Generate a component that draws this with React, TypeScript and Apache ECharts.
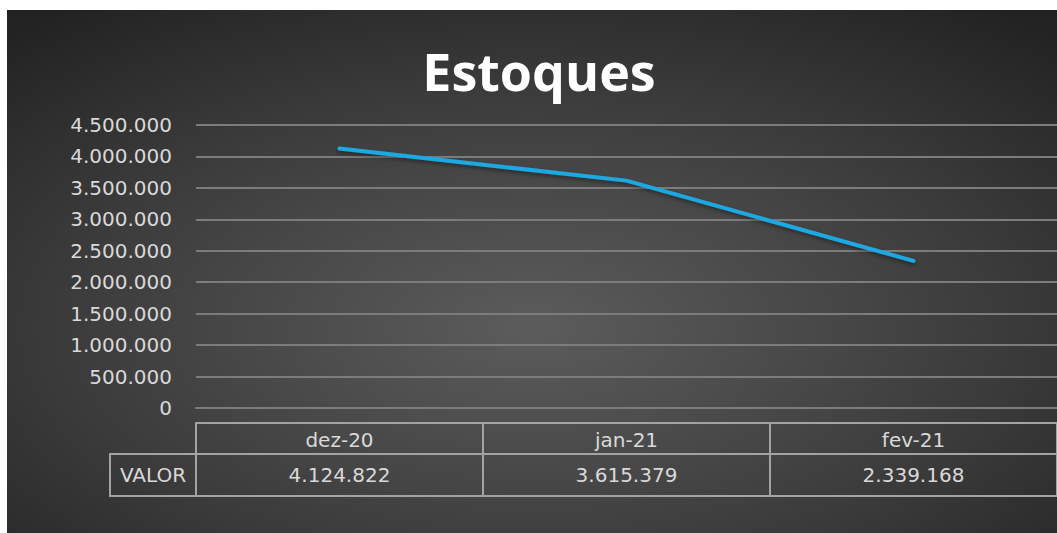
import React, { useEffect, useRef } from "react";
import * as echarts from "echarts";

const titleText = "Estoques";
const categories = ["dez-20", "jan-21", "fev-21"];
const values = [4124822, 3615379, 2339168];
const rowLabel = "VALOR";
const yMin = 0;
const yMax = 4500000;
const yStep = 500000;

const fmt = (n: number) =>
  String(Math.round(n)).replace(/\B(?=(\d{3})+(?!\d))/g, ".");

const labelColor = "#d9d9d9";
const gridColor = "#7c7c7c";
const tableColor = "#a3a3a3";
const font = "DejaVu Sans";

export default function App() {
  const ref = useRef<HTMLDivElement>(null);
  useEffect(() => {
    if (!ref.current) return;
    const chart = echarts.init(ref.current, undefined, { renderer: "svg" });
    const labelBase = { color: labelColor, fontSize: 20, fontFamily: font };
    chart.setOption({
      animation: false,
      backgroundColor: "#2a2a2a",
      grid: { left: 196, right: 0, top: 125, bottom: 125, containLabel: false },
      graphic: [
        {
          type: "rect",
          z: -10,
          silent: true,
          shape: { x: 7, y: 10, width: 1050, height: 530 },
          style: {
            fill: new echarts.graphic.RadialGradient(0.5, 0.6, 0.75, [
              { offset: 0, color: "#5c5c5c" },
              { offset: 0.6, color: "#3b3b3b" },
              { offset: 1, color: "#222222" },
            ]),
          },
        },
        {
          type: "rect",
          z: -9,
          silent: true,
          shape: { x: 0, y: 0, width: 1057, height: 10 },
          style: { fill: "#ffffff" },
        },
        {
          type: "rect",
          z: -9,
          silent: true,
          shape: { x: 0, y: 0, width: 7, height: 533 },
          style: { fill: "#ffffff" },
        },
        {
          type: "text",
          z: 10,
          x: 539,
          y: 70,
          style: {
            text: titleText,
            fill: "#ffffff",
            fontSize: 52,
            fontWeight: "bold",
            fontFamily: "Open Sans",
            textAlign: "center",
            textVerticalAlign: "middle",
            shadowColor: "rgba(0,0,0,0.7)",
            shadowBlur: 4,
            shadowOffsetX: 2,
            shadowOffsetY: 2,
          },
        },
        {
          type: "rect",
          z: 10,
          shape: { x: 110, y: 454, width: 86, height: 42 },
          style: { fill: "none", stroke: tableColor, lineWidth: 2 },
        },
        {
          type: "text",
          z: 10,
          x: 153,
          y: 475,
          style: {
            text: rowLabel,
            fill: labelColor,
            fontSize: 20,
            fontFamily: font,
            textAlign: "center",
            textVerticalAlign: "middle",
          },
        },
      ],
      xAxis: [
        {
          type: "category",
          data: categories,
          position: "bottom",
          axisLine: { show: true, lineStyle: { color: gridColor, width: 2 } },
          axisTick: { show: false },
          axisLabel: { show: false },
        },
        {
          type: "category",
          data: categories,
          position: "bottom",
          offset: 15,
          axisLine: { show: true, lineStyle: { color: tableColor, width: 2 } },
          axisTick: {
            show: true,
            interval: 0,
            length: 73,
            lineStyle: { color: tableColor, width: 2 },
          },
          axisLabel: { ...labelBase, margin: 7, interval: 0 },
        },
        {
          type: "category",
          data: values.map(fmt),
          position: "bottom",
          offset: 46,
          axisLine: { show: true, lineStyle: { color: tableColor, width: 2 } },
          axisTick: { show: false },
          axisLabel: { ...labelBase, margin: 11, interval: 0 },
        },
        {
          type: "category",
          data: categories,
          position: "bottom",
          offset: 88,
          axisLine: { show: true, lineStyle: { color: tableColor, width: 2 } },
          axisTick: { show: false },
          axisLabel: { show: false },
        },
      ],
      yAxis: {
        type: "value",
        min: yMin,
        max: yMax,
        interval: yStep,
        axisLine: { show: false },
        axisTick: { show: false },
        axisLabel: { ...labelBase, margin: 24, formatter: (v: number) => fmt(v) },
        splitLine: { show: true, lineStyle: { color: gridColor, width: 2 } },
      },
      series: [
        {
          type: "line",
          data: values,
          xAxisIndex: 0,
          yAxisIndex: 0,
          symbol: "none",
          showSymbol: false,
          z: 5,
          lineStyle: {
            color: "#1ea8e0",
            width: 4,
            cap: "round",
            shadowColor: "rgba(0,0,0,0.45)",
            shadowBlur: 4,
            shadowOffsetY: 2,
          },
        },
      ],
    });
    return () => chart.dispose();
  }, []);
  return (
    <div
      ref={ref}
      style={{ position: "fixed", left: 0, top: 0, width: 1057, height: 533 }}
    />
  );
}
